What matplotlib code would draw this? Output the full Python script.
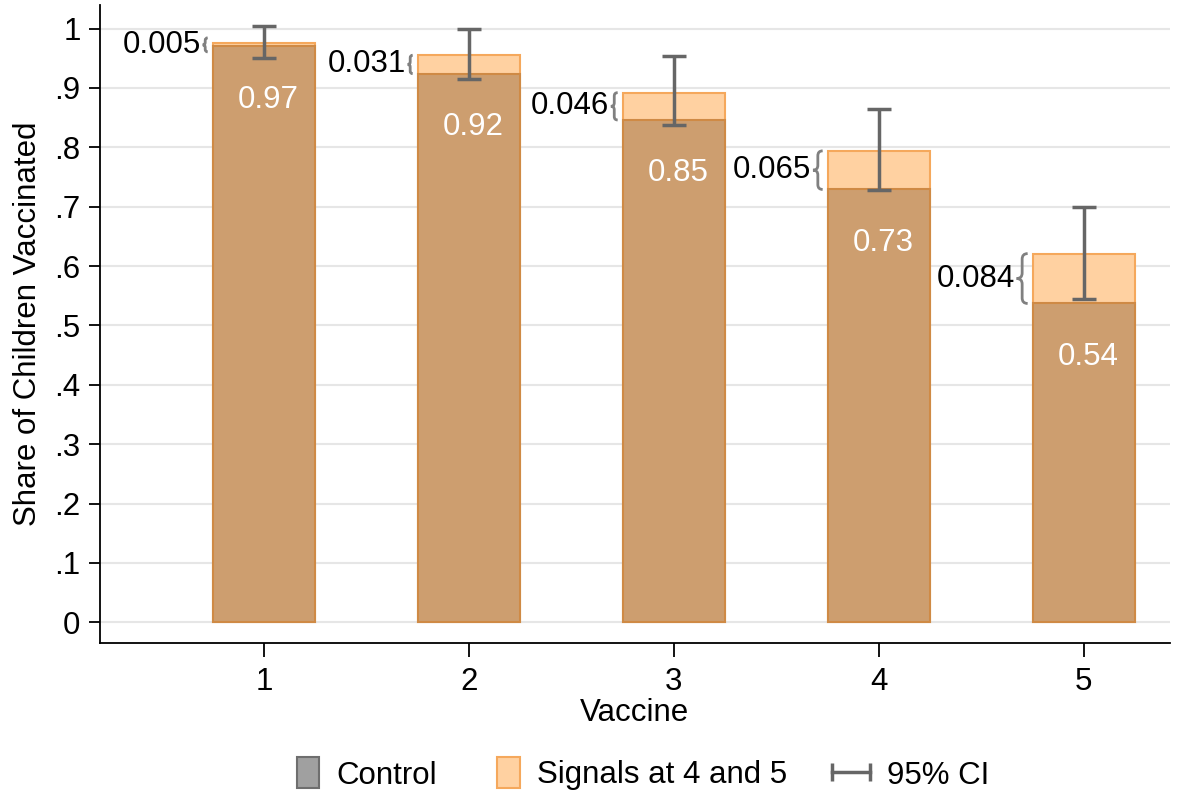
import matplotlib
matplotlib.use("Agg")
import matplotlib.pyplot as plt
from matplotlib.patches import Patch, Rectangle, PathPatch
from matplotlib.lines import Line2D
from matplotlib.path import Path
from matplotlib.legend_handler import HandlerPatch, HandlerLine2D

plt.rcParams['font.family'] = ['Liberation Sans', 'DejaVu Sans']

vaccines = [1, 2, 3, 4, 5]
control = [0.970, 0.924, 0.846, 0.729, 0.537]
diff = [0.005, 0.031, 0.046, 0.065, 0.084]
ci_low = [0.951, 0.915, 0.837, 0.728, 0.545]
ci_high = [1.004, 0.999, 0.953, 0.865, 0.700]
ctrl_labels = ["0.97", "0.92", "0.85", "0.73", "0.54"]
diff_labels = ["0.005", "0.031", "0.046", "0.065", "0.084"]
yticks = [0, .1, .2, .3, .4, .5, .6, .7, .8, .9, 1]
ytick_labels = ["0", ".1", ".2", ".3", ".4", ".5", ".6", ".7", ".8", ".9", "1"]

fs = 22.5

fig = plt.figure(figsize=(11.83, 7.95), dpi=100)
ax = fig.add_axes([0.0845, 0.191, 0.9045, 0.803])
xlim = (0.2, 5.42)
ylim = (-0.035, 1.04)
ax.set_xlim(*xlim)
ax.set_ylim(*ylim)

ax_w = 0.9045 * 1183
ax_h = 0.803 * 795
px_x = (xlim[1] - xlim[0]) / ax_w
px_y = (ylim[1] - ylim[0]) / ax_h

ax.set_yticks(yticks)
ax.set_yticklabels(ytick_labels)
ax.set_xticks(vaccines)
ax.grid(axis='y', color='#e6e6e6', lw=1.5, zorder=0)
ax.set_axisbelow(True)
for s in ['top', 'right']:
    ax.spines[s].set_visible(False)
ax.spines['left'].set_linewidth(1.3)
ax.spines['bottom'].set_linewidth(1.3)
ax.tick_params(axis='y', labelsize=fs, length=8, width=1.3, pad=6)
ax.tick_params(axis='x', labelsize=fs, length=10, width=1.3, pad=7)
ax.set_ylabel("Share of Children Vaccinated", fontsize=fs, labelpad=8)
ax.set_xlabel("Vaccine", fontsize=fs, labelpad=1)

width = 0.5
tops = [c + d for c, d in zip(control, diff)]
ax.bar(vaccines, tops, width=width, color='#ffd1a1', edgecolor='#f5a85c', lw=1.5, zorder=2)
ax.bar(vaccines, control, width=width, color='#cd9e6f', edgecolor='#cf8a45', lw=1.5, zorder=3)

mid = [(a + b) / 2 for a, b in zip(ci_low, ci_high)]
ax.errorbar(vaccines, mid,
            yerr=[[m - a for m, a in zip(mid, ci_low)], [b - m for m, b in zip(mid, ci_high)]],
            fmt='none', ecolor='#666666', elinewidth=2.5, capsize=8.5, capthick=2.5, zorder=5)

for x, c, lab in zip(vaccines, control, ctrl_labels):
    ax.text(x + 0.02, c - 0.09, lab, color='white', fontsize=fs, ha='center', va='center', zorder=6)


def brace(x_back, y0, y1, w_px):
    h_px = (y1 - y0) / px_y
    w = w_px * px_x
    xt = x_back - w
    xm = xt + w / 2
    r = min(w_px / 2, h_px / 4) * px_y
    ym = (y0 + y1) / 2
    verts = [(x_back, y1), (xm, y1), (xm, y1 - r),
             (xm, ym + r), (xm, ym), (xt, ym),
             (xm, ym), (xm, ym - r),
             (xm, y0 + r), (xm, y0), (x_back, y0)]
    codes = [Path.MOVETO, Path.CURVE3, Path.CURVE3,
             Path.LINETO, Path.CURVE3, Path.CURVE3,
             Path.CURVE3, Path.CURVE3,
             Path.LINETO, Path.CURVE3, Path.CURVE3]
    ax.add_patch(PathPatch(Path(verts, codes), fill=False, ec='#808080', lw=2, zorder=6,
                           clip_on=False))
    return xt


for x, c, d, lab in zip(vaccines, control, diff, diff_labels):
    h_px = d / px_y
    y0, y1 = c, c + d
    if h_px < 14:
        m = (y0 + y1) / 2
        y0, y1 = m - 7 * px_y, m + 7 * px_y
    w_px = min(max(h_px * 0.25, 5), 11)
    xt = brace(x - width / 2 - 5 * px_x, y0, y1, w_px)
    ax.text(xt - 2 * px_x, (y0 + y1) / 2, lab, fontsize=fs, ha='right', va='center', zorder=6)


def narrow_box(legend, orig_handle, xdescent, ydescent, width, height, fontsize):
    w = 16
    return Rectangle((-xdescent + width - w, -ydescent - 2), w, height + 4)


handles = [Patch(facecolor='#a0a0a0', edgecolor='#6e6e6e', lw=1.5),
           Patch(facecolor='#ffd1a1', edgecolor='#f5a85c', lw=1.5),
           Line2D([], [], color='#666666', lw=2.5, marker='|', markersize=13, markeredgewidth=2.5)]
fig.legend(handles, ["Control", "Signals at 4 and 5", "95% CI"], loc='center',
           bbox_to_anchor=(0.537, 0.025), ncol=3, frameon=False, fontsize=fs,
           handlelength=1.2, handleheight=0.9, numpoints=2, columnspacing=1.45,
           handletextpad=0.55,
           handler_map={Patch: HandlerPatch(patch_func=narrow_box),
                        Line2D: HandlerLine2D(marker_pad=0.0)})

fig.savefig("out.png", dpi=100)
